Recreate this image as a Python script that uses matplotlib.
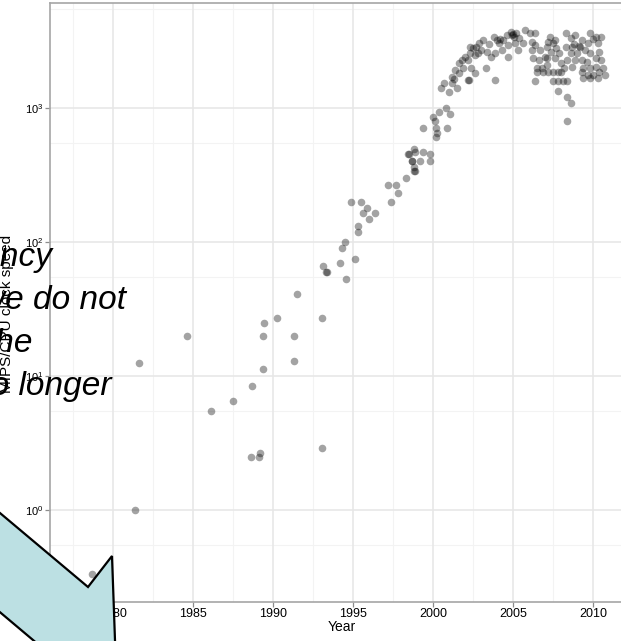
import numpy as np
import matplotlib
matplotlib.use('Agg')
import matplotlib.pyplot as plt
from matplotlib.patches import Polygon

plt.rcParams['font.family'] = ['Liberation Sans', 'DejaVu Sans']
plt.rcParams['mathtext.default'] = 'regular'

# valores (ano, MHz)
anos = [1978.7, 1981.4, 1981.65, 1984.6, 1986.1, 1987.5, 1988.7, 1989.36, 1989.36, 1989.46,
        1990.27, 1991.3, 1991.33, 1991.5, 1988.64, 1989.1, 1989.2, 1993.04, 1993.06, 1993.14,
        1993.3, 1993.35, 1994.2, 1994.56, 1994.5, 1994.33, 1995.14, 1995.3, 1995.3, 1994.9,
        1995.5, 1995.9, 1995.64, 1996.4, 1996.0, 1997.2, 1997.7, 1997.8, 1997.4, 1998.3,
        1998.8, 1998.85, 1998.8, 1998.7, 1998.5, 1998.83, 1999.2, 1998.44, 1998.9, 1999.4,
        1999.8, 1998.67, 1999.8, 1999.4, 2000.2, 2000.2, 2000.0, 2000.1, 2000.4, 2000.86,
        2000.8, 2001.06, 2000.27, 2000.5, 2000.7, 2001.0, 2001.5, 2001.2, 2001.17, 2001.4,
        2001.6, 2001.6, 2001.3, 2002.2, 2002.25, 2002.2, 2002.3, 2002.5, 2002.7, 2002.9,
        2003.0, 2002.6, 2002.8, 2002.4, 2002.6, 2002.3, 2003.3, 2003.6, 2003.9, 2003.8,
        2004.0, 2004.1, 2003.9, 2003.35, 2004.9, 2005.2, 2005.4, 2004.6, 2004.4, 2004.7,
        2005.1, 2005.6, 2004.7, 2005.75, 2004.3, 2005.3, 2005.0, 2004.95, 2005.05, 2006.06,
        2006.4, 2006.2, 2006.4, 2006.2, 2006.7, 2006.27, 2006.6, 2006.5, 2006.8, 2006.5,
        2006.9, 2007.2, 2007.5, 2007.8, 2008.0, 2006.4, 2007.5, 2007.8, 2008.1, 2008.4,
        2007.8, 2008.4, 2008.6, 2008.4, 2007.3, 2007.5, 2007.1, 2007.4, 2007.7, 2007.1,
        2007.6, 2007.9, 2007.1, 2008.0, 2008.3, 2008.6, 2008.9, 2009.3, 2008.3, 2008.7,
        2009.2, 2008.6, 2009.0, 2009.5, 2008.4, 2008.9, 2009.3, 2009.8, 2010.2, 2010.5,
        2009.7, 2010.3, 2010.4, 2009.8, 2010.2, 2010.5, 2009.6, 2009.4, 2009.8, 2010.2,
        2010.6, 2009.3, 2009.7, 2010.0, 2010.4, 2010.75, 2009.4, 2009.8, 2010.3, 2008.7,
        2007.2, 2007.6, 2008.8, 2009.1, 2010.0, 2007.0, 2008.2, 2001.9, 2002.0, 2003.1,
        2003.5, 2004.2, 2001.8]
mhz = [0.33, 1.0, 12.4, 20, 5.5, 6.5, 8.4, 11.3, 20, 25,
       26.9, 20, 12.9, 40.9, 2.47, 2.47, 2.68, 2.92, 27.1, 66.2,
       60, 60, 70, 53, 100, 90, 75, 118, 132, 200,
       200, 180, 166, 166, 149, 266, 266, 233, 200, 300,
       340, 340, 361, 400, 451, 497, 400, 454, 470, 470,
       454, 400, 400, 705, 611, 705, 861, 794, 933, 705,
       1000, 897, 655, 1403, 1528, 1324, 1403, 1528, 1714, 1923,
       2158, 1820, 1641, 1618, 1618, 2280, 2559, 2793, 2871, 3041,
       2710, 2489, 2559, 1977, 1820, 2871, 1977, 2415, 1618, 3404,
       3214, 3041, 2559, 2630, 3715, 3614, 3311, 3508, 3214, 2951,
       3041, 3041, 2415, 3819, 2710, 2710, 3600, 3500, 3400, 3614,
       3614, 3133, 2951, 2710, 2710, 2350, 2280, 1977, 1977, 1862,
       1862, 1862, 1862, 1862, 1862, 1600, 1600, 1600, 1600, 1600,
       1349, 1202, 1096, 804, 3404, 3041, 2871, 2630, 2793, 2350,
       2350, 2559, 2094, 2158, 3614, 3311, 3508, 3214, 2871, 2871,
       2871, 2559, 2559, 2710, 2280, 2280, 2280, 3614, 3404, 3404,
       3041, 3041, 2630, 2559, 2350, 2280, 2218, 1977, 1977, 2037,
       1977, 1862, 1762, 1762, 1862, 1762, 1667, 1667, 1667, 2037,
       3100, 3200, 3000, 2900, 3300, 2400, 2000, 2000, 2400, 3200,
       3000, 3300, 2300]

anos_ticks = [1980, 1985, 1990, 1995, 2000, 2005, 2010]
y_ticks = [0, 1, 2, 3]

# pedaços do texto que aparece por cima do gráfico
texto_linhas = ['frequency', 'we do not', 'the', 'no longer']

W, H = 621, 641
fig = plt.figure(figsize=(W / 100, H / 100), dpi=100)
ax = fig.add_axes([50 / W, 39 / H, 584 / W, 599 / H])

ax.set_yscale('log')
ax.set_xlim(1976.06, 2012.56)
ax.set_ylim(10 ** -0.687, 10 ** 3.784)

# grade estilo ggplot theme_bw
for x in np.arange(1977.5, 2013, 5):
    ax.axvline(x, color='#f3f3f3', lw=0.8, zorder=0)
for k in range(0, 5):
    ax.axhline(10 ** (k - 0.26), color='#f3f3f3', lw=0.8, zorder=0)
for x in anos_ticks:
    ax.axvline(x, color='#e6e6e6', lw=1.1, zorder=0)
for k in y_ticks:
    ax.axhline(10 ** k, color='#e6e6e6', lw=1.1, zorder=0)

ax.scatter(anos, mhz, s=30, color='black', alpha=0.36, linewidths=0, zorder=2)

ax.set_xticks(anos_ticks)
ax.set_xticklabels([str(a) for a in anos_ticks], fontsize=9)
ax.set_yticks([10 ** k for k in y_ticks])
ax.set_yticklabels([r'$10^{%d}$' % k for k in y_ticks], fontsize=8)
ax.yaxis.set_minor_locator(matplotlib.ticker.NullLocator())
ax.tick_params(axis='both', length=3.5, width=0.9, color='#8c8c8c', pad=1)

for s in ax.spines.values():
    s.set_color('#a6a6a6')
    s.set_linewidth(1.2)

ax.set_xlabel('Year', fontsize=10, labelpad=0)
ax.set_ylabel('MIPS/CPU clock speed', fontsize=11)
ax.yaxis.set_label_coords(-0.0616, 0.481)

# seta azul
pts = [(-100, 429), (88, 587), (112, 556), (115.7, 660), (17.3, 678), (41.3, 647), (-100, 528)]
seta = Polygon([(px / W, 1 - py / H) for px, py in pts], closed=True,
               transform=fig.transFigure, facecolor='#bce0e3', edgecolor='black',
               lw=1.6, zorder=5)
fig.add_artist(seta)

# texto em itálico cortado na borda
posicoes = [(53, 266), (126, 309), (33, 352), (112, 395)]
for t, (px, py) in zip(texto_linhas, posicoes):
    fig.text(px / W, 1 - py / H, t, ha='right', va='baseline', style='italic',
             fontsize=24, color='black', zorder=6)

fig.savefig('out.png', dpi=100)
